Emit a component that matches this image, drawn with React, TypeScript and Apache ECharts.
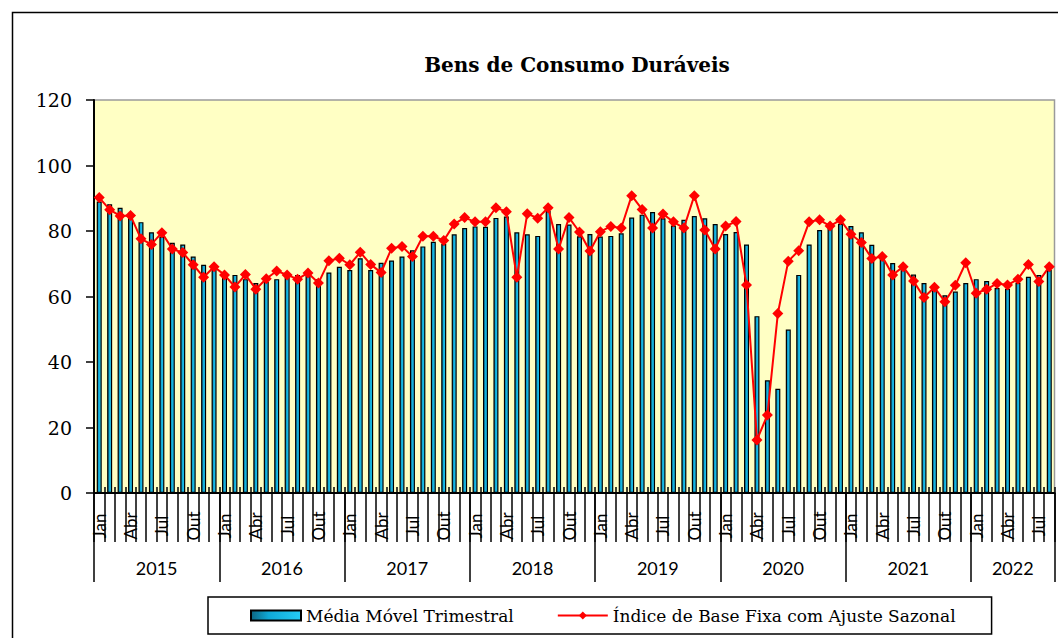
import React, { useEffect, useRef } from 'react';
import * as echarts from 'echarts';

const monthNames = ['Jan', 'Fev', 'Mar', 'Abr', 'Mai', 'Jun', 'Jul', 'Ago', 'Set', 'Out', 'Nov', 'Dez'];
const years = ['2015', '2016', '2017', '2018', '2019', '2020', '2021', '2022'];
const monthsPerYear = [12, 12, 12, 12, 12, 12, 12, 8];
const yTicks = { min: 0, max: 120, interval: 20 };

const title = 'Bens de Consumo Duráveis';
const barName = 'Média Móvel Trimestral';
const lineName = 'Índice de Base Fixa com Ajuste Sazonal';

// Média Móvel Trimestral (bars), Jan 2015 – Aug 2022
const mediaMovel = [
  89.0, 88.2, 87.1, 84.6, 82.7, 79.6, 78.3, 76.4, 75.9, 72.2, 69.7, 68.2,
  67.0, 66.6, 65.3, 64.1, 64.5, 65.3, 65.8, 66.6, 66.3, 65.3, 67.3, 69.1,
  68.1, 71.7, 68.1, 70.3, 71.0, 72.2, 74.1, 75.3, 76.7, 76.0, 79.0, 80.9,
  81.4, 81.3, 84.0, 84.4, 79.6, 79.0, 78.5, 86.1, 82.1, 82.0, 78.4, 79.1,
  78.3, 78.5, 79.3, 84.1, 85.0, 85.8, 83.9, 81.7, 83.4, 84.6, 83.9, 82.1,
  79.1, 79.7, 75.9, 54.0, 34.4, 31.8, 49.9, 66.6, 75.9, 80.3, 81.6, 82.2,
  81.5, 79.6, 75.8, 71.9, 70.2, 68.6, 66.7, 64.1, 62.4, 60.4, 61.5, 64.1,
  65.3, 64.7, 62.6, 62.4, 64.2, 66.0, 66.6, 68.1,
];

// Índice de Base Fixa com Ajuste Sazonal (line)
const indice = [
  90.2, 86.5, 84.6, 84.7, 77.6, 75.9, 79.5, 74.5, 73.4, 69.7, 65.9, 69.1,
  66.6, 62.9, 66.7, 62.2, 65.4, 67.8, 66.6, 65.3, 67.2, 64.1, 70.9, 71.7,
  69.7, 73.5, 69.8, 67.3, 74.7, 75.3, 72.2, 78.4, 78.4, 77.1, 82.1, 84.1,
  82.8, 82.8, 87.1, 85.9, 65.9, 85.3, 83.9, 87.1, 74.5, 84.1, 79.7, 73.9,
  79.8, 81.4, 80.9, 90.8, 86.6, 80.9, 85.2, 82.8, 80.9, 90.8, 80.3, 74.5,
  81.5, 82.9, 63.5, 16.2, 23.8, 54.8, 70.8, 74.0, 82.8, 83.4, 81.5, 83.4,
  79.0, 76.5, 71.6, 72.2, 66.6, 69.1, 64.7, 59.7, 62.8, 58.4, 63.4, 70.3,
  61.0, 62.2, 64.0, 63.5, 65.3, 69.8, 64.6, 69.1,
];

const categories: string[] = [];
const monthOf: string[] = [];
const yearOf: string[] = [];
const yearStarts = new Set<number>();
const yearLabelIdx = new Set<number>();
years.forEach((y, k) => {
  const start = categories.length;
  yearStarts.add(start);
  yearLabelIdx.add(start + Math.floor(monthsPerYear[k] / 2));
  for (let m = 0; m < monthsPerYear[k]; m++) {
    categories.push(`${monthNames[m]} ${y}`);
    monthOf.push(monthNames[m]);
    yearOf.push(y);
  }
});

export default function App() {
  const ref = useRef<HTMLDivElement>(null);
  useEffect(() => {
    if (!ref.current) return;
    const chart = echarts.init(ref.current, null, { renderer: 'svg' });
    const black = { color: '#000', width: 1.5 };
    const barGradient = new echarts.graphic.LinearGradient(0, 0, 1, 0, [
      { offset: 0, color: '#0d6580' },
      { offset: 0.35, color: '#0fa8d6' },
      { offset: 1, color: '#25ccf6' },
    ]);
    chart.setOption({
      animation: false,
      backgroundColor: '#fff',
      textStyle: { fontFamily: 'DejaVu Serif' },
      grid: {
        left: 94, right: 3.5, top: 100, bottom: 145,
        show: true, backgroundColor: '#FFFFC4', borderColor: '#9a9a9a', borderWidth: 1.5,
      },
      legend: {
        left: 208, top: 597,
        padding: [10, 36, 10, 42],
        itemWidth: 50, itemHeight: 10, itemGap: 43,
        borderColor: '#000', borderWidth: 1.5, backgroundColor: '#fff',
        textStyle: { fontFamily: 'DejaVu Serif', fontSize: 17, color: '#000' },
        data: [{ name: barName, icon: 'rect' }, { name: lineName }],
      },
      xAxis: [
        {
          type: 'category', data: categories, position: 'bottom',
          axisLine: { show: true, lineStyle: { color: '#000', width: 2 } },
          axisTick: { show: true, interval: 0, length: 49, lineStyle: black },
          axisLabel: {
            interval: (i: number) => i % 3 === 0,
            formatter: (_v: string, i: number) => monthOf[i],
            rotate: 90, align: 'center', verticalAlign: 'middle', margin: 33,
            fontFamily: 'Lato', fontSize: 17, color: '#000',
          },
          splitLine: { show: false },
        },
        {
          type: 'category', data: categories, position: 'bottom',
          axisLine: { show: false },
          axisTick: { show: true, interval: (i: number) => yearStarts.has(i), length: 89, lineStyle: black },
          axisLabel: {
            interval: (i: number) => yearLabelIdx.has(i),
            formatter: (_v: string, i: number) => `{y|${yearOf[i]}}`,
            margin: 66,
            rich: { y: { fontFamily: 'Lato', fontSize: 18, color: '#000', padding: [0, 10.4, 0, 0] } },
          },
          splitLine: { show: false },
        },
        {
          type: 'category', data: categories, position: 'bottom',
          axisLine: { show: false },
          axisTick: { show: true, inside: true, interval: 0, length: 6, lineStyle: black },
          axisLabel: { show: false },
          splitLine: { show: false },
        },
      ],
      yAxis: {
        type: 'value', min: yTicks.min, max: yTicks.max, interval: yTicks.interval,
        axisLine: { show: true, lineStyle: { color: '#000', width: 2 } },
        axisTick: { show: true, length: 8, lineStyle: black },
        axisLabel: { margin: 22, fontFamily: 'DejaVu Serif', fontSize: 19, color: '#000' },
        splitLine: { show: false },
      },
      series: [
        {
          name: barName, type: 'bar', data: mediaMovel, barWidth: 5,
          itemStyle: { color: barGradient, borderColor: '#000', borderWidth: 1.2 },
        },
        {
          name: lineName, type: 'line', data: indice,
          symbol: 'diamond', symbolSize: 11, showSymbol: true, showAllSymbol: true,
          lineStyle: { color: '#ff0000', width: 2 },
          itemStyle: { color: '#ff0000' },
        },
      ],
      graphic: [
        {
          type: 'rect', silent: true, z: -10,
          shape: { x: 12.5, y: 12.5, width: 1060, height: 640 },
          style: { fill: 'none', stroke: '#000', lineWidth: 1.5 },
        },
        {
          type: 'text', x: 577, y: 65,
          style: {
            text: title, fill: '#000', font: 'bold 20px "DejaVu Serif"',
            textAlign: 'center', textVerticalAlign: 'middle',
          },
        },
      ],
    });
    return () => chart.dispose();
  }, []);
  return (
    <div
      ref={ref}
      style={{ position: 'fixed', left: 0, top: 0, width: 1058, height: 638 }}
    />
  );
}
